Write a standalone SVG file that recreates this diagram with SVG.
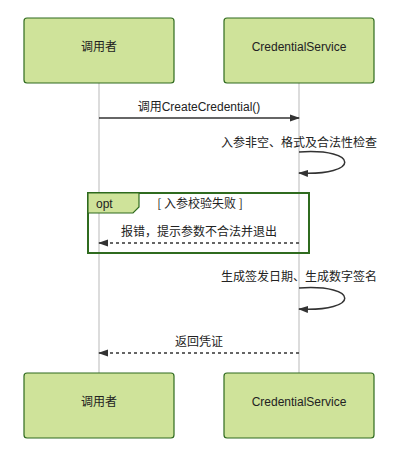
<svg xmlns="http://www.w3.org/2000/svg" width="404" height="452" viewBox="0 0 404 452">
<style>
.box{fill:#cfe39a;stroke:#2f6b1f;stroke-width:1.2}
.t{font-family:"Noto Sans CJK SC","Liberation Sans",sans-serif;font-size:12px;fill:#222}
.lat{font-family:"Liberation Sans","Noto Sans CJK SC",sans-serif}
.life{stroke:#dcdcdc;stroke-width:2}
.msg{stroke:#333;stroke-width:1.5;fill:none}
.dash{stroke-dasharray:3,3}
</style>
<defs>
<marker id="ah" viewBox="0 0 10 8" refX="9" refY="4" markerWidth="10" markerHeight="8" markerUnits="userSpaceOnUse" orient="auto">
<path d="M0,0.5 L10,4 L0,7.5 Z" fill="#333"/>
</marker>
</defs>
<g id="lifelines">
<line class="life" x1="99" y1="83" x2="99" y2="373"/>
<line class="life" x1="299" y1="83" x2="299" y2="373"/>
</g>
<g id="caller-top"><rect class="box" x="24" y="18" width="150" height="65" rx="3"/><text class="t" x="99" y="48" text-anchor="middle" dominant-baseline="middle">调用者</text></g>
<g id="service-top"><rect class="box" x="224" y="18" width="150" height="65" rx="3"/><text class="t lat" x="299" y="48" text-anchor="middle" dominant-baseline="middle">CredentialService</text></g>
<g id="caller-bottom"><rect class="box" x="24" y="373" width="150" height="65" rx="3"/><text class="t" x="99" y="403" text-anchor="middle" dominant-baseline="middle">调用者</text></g>
<g id="service-bottom"><rect class="box" x="224" y="373" width="150" height="65" rx="3"/><text class="t lat" x="299" y="403" text-anchor="middle" dominant-baseline="middle">CredentialService</text></g>
<g id="opt-frame">
<rect x="88" y="193" width="221" height="60" fill="none" stroke="#2f6b1f" stroke-width="2"/>
<polygon points="88,193 139,193 139,207 133,213 88,213" fill="#cfe39a" stroke="#2f6b1f" stroke-width="1.2"/>
<text class="t lat" x="96" y="205" dominant-baseline="middle">opt</text>
<text class="t" x="200" y="205" text-anchor="middle" dominant-baseline="middle">[ 入参校验失败 ]</text>
</g>
<g id="connectors">
<line class="msg" x1="99" y1="118" x2="299" y2="118" marker-end="url(#ah)"/>
<text class="t lat" x="199" y="108" text-anchor="middle" dominant-baseline="middle">调用CreateCredential()</text>
<path class="msg" d="M299,152 C360,148 360,176 299,173" marker-end="url(#ah)"/>
<text class="t" x="299" y="144" text-anchor="middle" dominant-baseline="middle">入参非空、格式及合法性检查</text>
<line class="msg dash" x1="299" y1="243" x2="99" y2="243" marker-end="url(#ah)"/>
<text class="t" x="199" y="233" text-anchor="middle" dominant-baseline="middle">报错，提示参数不合法并退出</text>
<path class="msg" d="M299,288 C360,284 360,312 299,309" marker-end="url(#ah)"/>
<text class="t" x="299" y="278" text-anchor="middle" dominant-baseline="middle">生成签发日期、生成数字签名</text>
<line class="msg dash" x1="299" y1="353" x2="99" y2="353" marker-end="url(#ah)"/>
<text class="t" x="199" y="343" text-anchor="middle" dominant-baseline="middle">返回凭证</text>
</g>
</svg>
